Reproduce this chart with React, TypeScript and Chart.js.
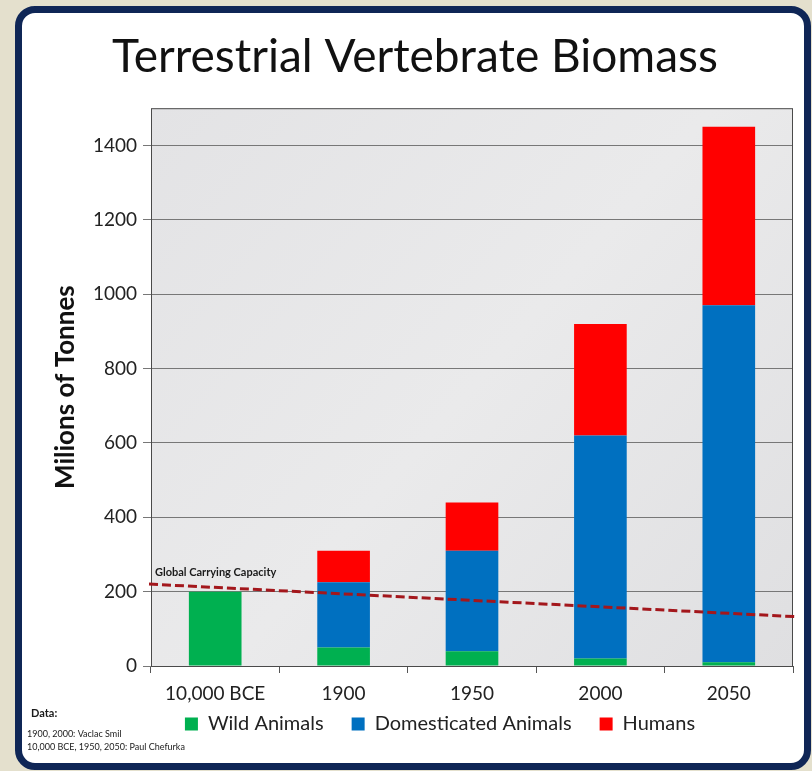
import React, { useEffect, useRef } from "react";
import { Chart, registerables } from "chart.js";

Chart.register(...registerables);

const categories = ["10,000 BCE", "1900", "1950", "2000", "2050"];
const wildAnimals = [200, 50, 40, 20, 10];
const domesticatedAnimals = [0, 175, 270, 600, 960];
const humans = [0, 85, 130, 300, 480];
const capacityEnds = [220, 133];
const yTicks = [0, 200, 400, 600, 800, 1000, 1200, 1400];

const FONT = "Lato, 'Open Sans', sans-serif";

const framePlugin = {
  id: "framePlugin",
  beforeDraw(chart: any) {
    const { ctx, chartArea: a } = chart;
    ctx.save();
    const g = ctx.createLinearGradient(a.left, a.top, a.right, a.bottom);
    g.addColorStop(0, "#e3e3e5");
    g.addColorStop(0.5, "#eaeaeb");
    g.addColorStop(1, "#dfdfe1");
    ctx.fillStyle = g;
    ctx.fillRect(a.left, a.top, a.right - a.left, a.bottom - a.top);
    ctx.restore();
  },
  afterLayout(chart: any) {
    const l = chart.legend;
    if (l) {
      const dx = 440 - (l.left + l.right) / 2;
      l.left += dx;
      l.right += dx;
      l.top -= 20;
      l.bottom -= 20;
    }
    const t = chart.titleBlock;
    if (t) {
      const dx = 415 - (t.left + t.right) / 2;
      t.left += dx;
      t.right += dx;
    }
  },
  afterDatasetsDraw(chart: any) {
    const { ctx, chartArea: a, scales } = chart;
    const y = scales.y;
    ctx.save();
    ctx.strokeStyle = "#4a4a4a";
    ctx.lineWidth = 1;
    ctx.strokeRect(a.left + 0.5, a.top + 0.5, a.right - a.left - 1, a.bottom - a.top);
    // carrying capacity
    const x0 = a.left - 2;
    const x1 = a.right + 4;
    const y0 = y.getPixelForValue(capacityEnds[0]);
    const yr = y.getPixelForValue(capacityEnds[1]);
    const slope = (yr - y0) / (a.right - a.left);
    ctx.strokeStyle = "#a3171c";
    ctx.lineWidth = 3;
    ctx.setLineDash([9, 4]);
    ctx.beginPath();
    ctx.moveTo(x0, y0 - 2 * slope);
    ctx.lineTo(x1, y0 + (x1 - a.left) * slope);
    ctx.stroke();
    ctx.setLineDash([]);
    ctx.fillStyle = "#1a1a1a";
    ctx.font = `bold 11px ${FONT}`;
    ctx.textBaseline = "alphabetic";
    ctx.fillText("Global Carrying Capacity", a.left + 4, y0 - 8);
    // source
    ctx.textBaseline = "middle";
    ctx.font = `bold 11px ${FONT}`;
    ctx.fillText("Data:", 31, 713);
    ctx.font = `9px ${FONT}`;
    ctx.fillText("1900, 2000: Vaclac Smil", 27, 734);
    ctx.fillText("10,000 BCE, 1950, 2050: Paul Chefurka", 27, 747);
    ctx.restore();
  },
};

export default function App() {
  const ref = useRef<HTMLCanvasElement>(null);
  useEffect(() => {
    document.body.style.margin = "0";
    const chart = new Chart(ref.current!, {
      type: "bar",
      data: {
        labels: categories,
        datasets: [
          { label: "Wild Animals", data: wildAnimals, backgroundColor: "#00b050" },
          { label: "Domesticated Animals", data: domesticatedAnimals, backgroundColor: "#0070c0" },
          { label: "Humans", data: humans, backgroundColor: "#ff0000" },
        ],
      },
      options: {
        animation: false,
        responsive: false,
        maintainAspectRatio: false,
        layout: { padding: { left: 0, right: 19, top: 0, bottom: 7 } },
        datasets: { bar: { barPercentage: 0.41, categoryPercentage: 1 } },
        plugins: {
          title: {
            display: true,
            text: "Terrestrial Vertebrate Biomass",
            color: "#111",
            font: { family: FONT, size: 46, weight: "normal" },
            padding: { top: 30, bottom: 23 },
          },
          legend: {
            position: "bottom",
            labels: {
              color: "#222",
              font: { family: FONT, size: 20 },
              boxWidth: 13,
              boxHeight: 13,
              padding: 28,
            },
          },
          tooltip: { enabled: false },
        },
        scales: {
          x: {
            stacked: true,
            grid: { display: true, drawOnChartArea: false, drawTicks: true, tickLength: 7, color: "#555", offset: true },
            border: { display: false },
            ticks: { color: "#222", font: { family: FONT, size: 19 }, padding: 9 },
            afterFit(s: any) {
              s.height = 40;
            },
          },
          y: {
            stacked: true,
            min: 0,
            max: 1500,
            ticks: {
              stepSize: 200,
              color: "#222",
              font: { family: FONT, size: 19 },
              padding: 6,
              callback: (v: any) => String(v),
            },
            afterBuildTicks(s: any) {
              s.ticks = yTicks.map((v) => ({ value: v }));
            },
            grid: { color: "#777", tickLength: 8, lineWidth: 1 },
            border: { display: false },
            title: {
              display: true,
              text: "Milions of Tonnes",
              color: "#111",
              font: { family: FONT, size: 26, weight: "bold" },
              padding: { top: 50, bottom: 0 },
            },
            afterFit(s: any) {
              s.width = 151;
            },
          },
        },
      },
      plugins: [framePlugin],
    });
    return () => chart.destroy();
  }, []);
  return (
    <div style={{ position: "relative", width: 812, height: 771, background: "#e4e0cd", overflow: "hidden" }}>
      <div
        style={{
          position: "absolute",
          left: 15,
          top: 6,
          width: 796 - 14,
          height: 764 - 14,
          border: "7px solid #0f2656",
          borderRadius: 20,
          background: "#ffffff",
        }}
      />
      <canvas ref={ref} width={812} height={771} style={{ position: "absolute", left: 0, top: 0 }} />
    </div>
  );
}
